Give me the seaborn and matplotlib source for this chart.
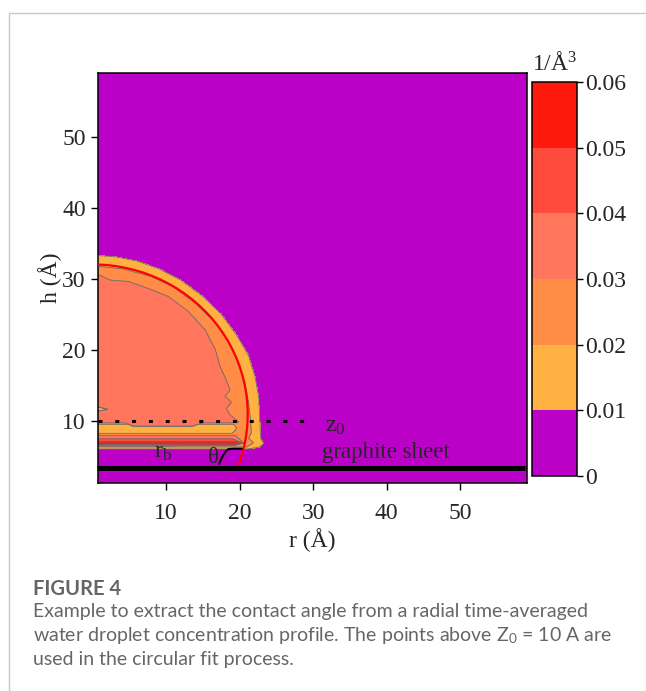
import numpy as np
import matplotlib
matplotlib.use("Agg")
import matplotlib.pyplot as plt
import seaborn as sns
from matplotlib.path import Path
from matplotlib.patches import Arc
from matplotlib.lines import Line2D

# ---------------- data ----------------
levels = [0.0, 0.01, 0.02, 0.03, 0.04, 0.05, 0.06]
level_colors = ["#bb00c8", "#ffb142", "#ff8d45", "#ff765c", "#ff4b3c", "#ff180c"]
cbar_ticks = [0.0, 0.01, 0.02, 0.03, 0.04, 0.05, 0.06]
cbar_ticklabels = ["0", "0.01", "0.02", "0.03", "0.04", "0.05", "0.06"]
x_ticks = [10, 20, 30, 40, 50]
y_ticks = [10, 20, 30, 40, 50]
r_limits = (0.8, 59.05)
h_limits = (1.15, 59.0)

# outlines (r, h) of the regions whose density exceeds each level
region_001_r = [0, 3, 6, 9, 12, 15, 17.5, 19.5, 21.2, 22.1, 22.6, 22.7, 22.8, 22.9, 23.3, 22.6, 21.0, 0]
region_001_h = [33.3, 33.1, 32.5, 31.4, 29.8, 27.5, 25.0, 22.2, 19.2, 16.2, 13.2, 11.0, 8.6, 7.4, 6.8, 6.25, 6.0, 6.0]

region_002_r = [0, 4, 8, 11, 14, 16.5, 18.5, 19.8, 20.7, 21.2, 21.5, 21.6, 21.2, 21.9, 21.0, 0, 0, 19.0, 19.6, 19.2, 0, 0, 2.1, 0]
region_002_h = [31.8, 31.4, 30.3, 28.8, 26.5, 24.0, 21.2, 18.4, 15.4, 12.6, 10.0, 8.3, 7.5, 6.9, 6.3, 6.3, 8.2, 8.2, 8.9, 9.5, 9.5, 11.2, 11.6, 12.1]

region_003_bulk_r = [0, 1.0, 2.4, 4.9, 7.6, 10.3, 13.0, 15.3, 16.7, 17.4, 18.2, 18.7, 18.0, 18.9, 18.2, 18.7, 19.9, 19.0, 15.0, 13.5, 5.5, 4.5, 0, 0, 2.1, 0]
region_003_bulk_h = [30.5, 30.5, 29.8, 29.6, 28.6, 27.5, 25.4, 22.8, 20.0, 17.5, 15.7, 14.3, 13.4, 12.6, 11.7, 10.8, 9.8, 9.7, 9.7, 9.2, 9.2, 9.7, 9.7, 11.2, 11.6, 12.1]

region_003_layer_r = [0, 19.0, 20.6, 19.4, 0]
region_003_layer_h = [6.4, 6.45, 6.85, 7.9, 7.9]
region_004_r = [0, 19.4, 20.4, 19.0, 0]
region_004_h = [6.52, 6.55, 6.85, 7.45, 7.45]
region_005_r = [0, 19.8, 20.4, 19.6, 0]
region_005_h = [6.66, 6.68, 6.85, 7.02, 7.02]

# circular fit and annotations
fit_center_h = 10.9
fit_radius = 21.1
sheet_h = 3.4
sheet_r = (0.6, 58.8)
z0_h = 10.0
z0_r = (0.8, 29.0)
theta_arc_r = [17.2, 17.5, 17.8, 18.15, 18.5, 19.2, 20.3]
theta_arc_h = [3.9, 4.6, 5.2, 5.7, 6.0, 6.05, 6.05]

# ---------------- style ----------------
sns.set_theme(style="ticks")
plt.rcParams["font.family"] = ["Liberation Serif", "DejaVu Serif"]
plt.rcParams["mathtext.fontset"] = "custom"
plt.rcParams["mathtext.rm"] = "Liberation Serif"
plt.rcParams["mathtext.it"] = "Liberation Serif:italic"
FS = 17
AFS = 16.5

fig = plt.figure(figsize=(6.46, 6.91), dpi=100)
fig.patch.set_facecolor("white")
ax = fig.add_axes([0.1522, 0.3003, 0.6636, 0.5945])
cax = fig.add_axes([0.8235, 0.3111, 0.0697, 0.5702])

# ---------------- field on a grid ----------------
r_grid = np.concatenate([np.arange(r_limits[0], 25, 0.05), np.arange(25, r_limits[1], 0.5), [r_limits[1]]])
h_grid = np.concatenate([np.arange(h_limits[0], 35, 0.04), np.arange(35, h_limits[1], 0.5), [h_limits[1]]])
RR, HH = np.meshgrid(r_grid, h_grid)
pts = np.column_stack([RR.ravel(), HH.ravel()])
field = np.full(pts.shape[0], 0.005)
regions = [
    (0.015, region_001_r, region_001_h),
    (0.025, region_002_r, region_002_h),
    (0.035, region_003_bulk_r, region_003_bulk_h),
    (0.035, region_003_layer_r, region_003_layer_h),
    (0.045, region_004_r, region_004_h),
    (0.055, region_005_r, region_005_h),
]
for val, rr, hh in regions:
    inside = Path(np.column_stack([rr, hh])).contains_points(pts)
    field[inside] = np.maximum(field[inside], val)
field = field.reshape(RR.shape)

cf = ax.contourf(r_grid, h_grid, field, levels=levels, colors=level_colors)
ax.contour(r_grid, h_grid, field, levels=levels[1:-1], colors="#6e6e6e", linewidths=0.6)

# circular fit
theta1 = np.degrees(np.arcsin((sheet_h - fit_center_h) / fit_radius))
ax.add_patch(Arc((0, fit_center_h), 2 * fit_radius, 2 * fit_radius, theta1=theta1, theta2=90,
                 color="#ff0000", lw=1.6, zorder=4))

# graphite sheet, z0 line, theta arc
ax.plot(sheet_r, [sheet_h, sheet_h], color="black", lw=3.6, solid_capstyle="butt", clip_on=False, zorder=5)
ax.plot(z0_r, [z0_h, z0_h], color="black", lw=2.2, linestyle=(0, (1.3, 4.2)), zorder=5)
ax.plot(theta_arc_r, theta_arc_h, color="black", lw=1.5, zorder=5)

ax.text(31.2, 4.7, "graphite sheet", fontsize=AFS, ha="left", va="baseline")
ax.text(31.6, 8.45, r"$\mathrm{z}_\mathrm{0}$", fontsize=AFS + 1, ha="left", va="baseline")
ax.text(8.4, 4.75, r"$\mathrm{r}_\mathrm{b}$", fontsize=AFS + 1, ha="left", va="baseline")
ax.text(15.7, 4.05, "θ", fontsize=AFS, ha="left", va="baseline")

ax.set_xlim(*r_limits)
ax.set_ylim(*h_limits)
ax.set_xticks(x_ticks)
ax.set_yticks(y_ticks)
ax.tick_params(axis="both", labelsize=FS, length=5, width=1.0, direction="out", color="black")
ax.tick_params(axis="x", pad=9)
ax.tick_params(axis="y", pad=4)
for s in ax.spines.values():
    s.set_linewidth(1.1)
    s.set_color("black")
ax.set_xlabel("r (Å)", fontsize=FS, labelpad=3)
ax.set_ylabel("h (Å)", fontsize=FS, labelpad=0)

cb = fig.colorbar(cf, cax=cax, ticks=cbar_ticks)
cb.set_ticklabels(cbar_ticklabels)
cb.outline.set_linewidth(1.1)
cb.outline.set_edgecolor("black")
cax.tick_params(labelsize=FS, length=4, width=1.0, direction="out", pad=2, color="black")
cax.set_title("1/Å$^\\mathrm{3}$", fontsize=FS, pad=9)

# frame and caption
fig.add_artist(Line2D([9 / 646, 9 / 646], [0, 1 - 13 / 691], transform=fig.transFigure, color="#c8c8c8", lw=1))
fig.add_artist(Line2D([9 / 646, 1], [1 - 13 / 691, 1 - 13 / 691], transform=fig.transFigure, color="#c8c8c8", lw=1))

cap_font = ["Lato", "DejaVu Sans"]
fig.text(33 / 646, 1 - 595 / 691, "FIGURE 4", family=cap_font, fontsize=14.5, fontweight="bold",
         color="#666666", ha="left", va="baseline")
cap_lines = [
    "Example to extract the contact angle from a radial time-averaged",
    "water droplet concentration profile. The points above Z$_\\mathregular{0}$ = 10 A are",
    "used in the circular fit process.",
]
for i, line in enumerate(cap_lines):
    fig.text(33 / 646, 1 - (617.5 + 23.6 * i) / 691, line, family=cap_font, fontsize=14,
             color="#666666", ha="left", va="baseline")

fig.savefig("out.png", dpi=100, facecolor="white")
